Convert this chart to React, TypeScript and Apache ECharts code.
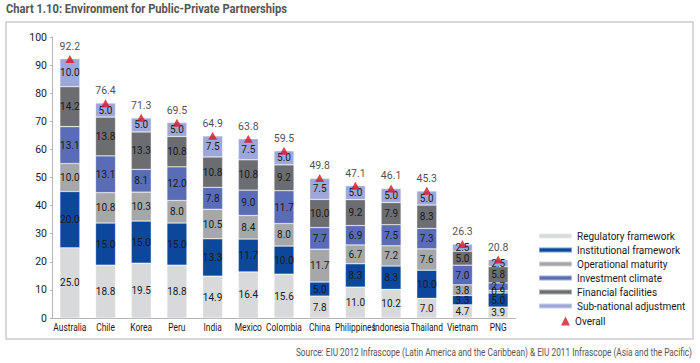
import React, { useEffect, useRef } from "react";
import * as echarts from "echarts";

const categories = ["Australia", "Chile", "Korea", "Peru", "India", "Mexico", "Colombia", "China", "Philippines", "Indonesia", "Thailand", "Vietnam", "PNG"];
const regulatory = [25.0, 18.8, 19.5, 18.8, 14.9, 16.4, 15.6, 7.8, 11.0, 10.2, 7.0, 4.7, 3.9];
const institutional = [20.0, 15.0, 15.0, 15.0, 13.3, 11.7, 10.0, 5.0, 8.3, 8.3, 10.0, 3.3, 5.0];
const operational = [10.0, 10.8, 10.3, 8.0, 10.5, 8.4, 8.0, 11.7, 6.7, 7.2, 7.6, 3.8, 0.9];
const investment = [13.1, 13.1, 8.1, 12.0, 7.8, 9.0, 11.7, 7.7, 6.9, 7.5, 7.3, 7.0, 2.7];
const financial = [14.2, 13.8, 13.3, 10.8, 10.8, 10.8, 9.2, 10.0, 9.2, 7.9, 8.3, 5.0, 5.8];
const subnational = [10.0, 5.0, 5.0, 5.0, 7.5, 7.5, 5.0, 7.5, 5.0, 5.0, 5.0, 2.5, 2.5];
const overall = [92.2, 76.4, 71.3, 69.5, 64.9, 63.8, 59.5, 49.8, 47.1, 46.1, 45.3, 26.3, 20.8];

const FONT = "Roboto, 'Noto Sans', sans-serif";

const stackDefs = [
  { name: "Regulatory framework", data: regulatory, color: "#d8d9db" },
  { name: "Institutional framework", data: institutional, color: "#0c479c" },
  { name: "Operational maturity", data: operational, color: "#a6a7a9" },
  { name: "Investment climate", data: investment, color: "#5a6cb6" },
  { name: "Financial facilities", data: financial, color: "#6c6d70" },
  { name: "Sub-national adjustment", data: subnational, color: "#9ea7da" },
];

export default function App() {
  const ref = useRef<HTMLDivElement>(null);
  useEffect(() => {
    if (!ref.current) return;
    const chart = echarts.init(ref.current, undefined, { renderer: "svg" });
    const barSeries = stackDefs.map((s) => ({
      name: s.name,
      type: "bar",
      stack: "total",
      barWidth: 20,
      data: s.data,
      itemStyle: { color: s.color, borderColor: "rgba(255,255,255,0.45)", borderWidth: 0.6 },
      label: {
        show: true,
        position: "inside",
        formatter: (p: any) => Number(p.value).toFixed(1),
        fontSize: 10,
        fontFamily: FONT,
        color: "#1a1a1a",
      },
    }));
    const staticGraphics: any[] = [
      {
        type: "rect",
        shape: { x: 6, y: 22, width: 687, height: 317 },
        style: { fill: "none", stroke: "#cccccc", lineWidth: 1.5 },
        silent: true,
      },
      {
        type: "text",
        x: 6,
        y: 9,
        scaleX: 0.86,
        style: {
          text: "Chart 1.10: Environment for Public-Private Partnerships",
          fontSize: 13,
          fontWeight: "bold",
          fill: "#555555",
          fontFamily: FONT,
          align: "left",
          verticalAlign: "middle",
        },
      },
      {
        type: "text",
        x: 692,
        y: 352,
        scaleX: 0.83,
        style: {
          text: "Source: EIU 2012 Infrascope (Latin America and the Caribbean) & EIU 2011 Infrascope (Asia and the Pacific)",
          fontSize: 10,
          fill: "#555555",
          fontFamily: FONT,
          align: "right",
          verticalAlign: "middle",
        },
      },
    ];
    chart.setOption({
      animation: false,
      textStyle: { fontFamily: FONT },
      grid: { left: 52, right: 184, top: 37, bottom: 45 },
      xAxis: {
        type: "category",
        data: categories,
        axisLine: { lineStyle: { color: "#b5b5b5" } },
        axisTick: { show: false },
        axisLabel: { show: false },
      },
      yAxis: {
        type: "value",
        min: 0,
        max: 100,
        interval: 10,
        splitLine: { show: false },
        axisLine: { show: true, lineStyle: { color: "#b5b5b5" } },
        axisTick: { show: true, length: 2, lineStyle: { color: "#b5b5b5" } },
        axisLabel: { fontSize: 10.5, color: "#1a1a1a", margin: 5, fontFamily: FONT },
      },
      legend: [
        {
          data: stackDefs.map((s) => s.name),
          orient: "vertical",
          left: 533,
          top: 226,
          itemWidth: 33,
          itemHeight: 5,
          itemGap: 4,
          icon: "rect",
          textStyle: { fontSize: 10, color: "#1a1a1a", fontFamily: FONT },
        },
        {
          data: ["Overall"],
          orient: "vertical",
          left: 556,
          top: 311,
          itemWidth: 9,
          itemHeight: 9,
          icon: "triangle",
          textStyle: { fontSize: 10, color: "#1a1a1a", fontFamily: FONT },
        },
      ],
      graphic: staticGraphics,
      series: [
        ...barSeries,
        {
          name: "Overall",
          type: "scatter",
          data: overall,
          symbol: "triangle",
          symbolSize: [9, 8],
          itemStyle: { color: "#d2182a" },
          z: 5,
          label: {
            show: true,
            position: "top",
            distance: 3,
            formatter: (p: any) => Number(p.value).toFixed(1),
            fontSize: 10.5,
            color: "#1a1a1a",
            fontFamily: FONT,
          },
        },
      ],
    });
    const catLabels = categories.map((c) => {
      const pt = chart.convertToPixel({ gridIndex: 0 }, [c, 0]) as number[];
      return {
        type: "text",
        x: pt[0],
        y: pt[1] + 4,
        scaleX: 0.8,
        silent: true,
        style: {
          text: c,
          fontSize: 10.5,
          fill: "#1a1a1a",
          fontFamily: FONT,
          align: "center",
          verticalAlign: "top",
        },
      };
    });
    chart.setOption({ graphic: [...staticGraphics, ...catLabels] });
    return () => chart.dispose();
  }, []);
  return <div ref={ref} style={{ width: 700, height: 363, position: "absolute", left: 0, top: 0 }} />;
}
